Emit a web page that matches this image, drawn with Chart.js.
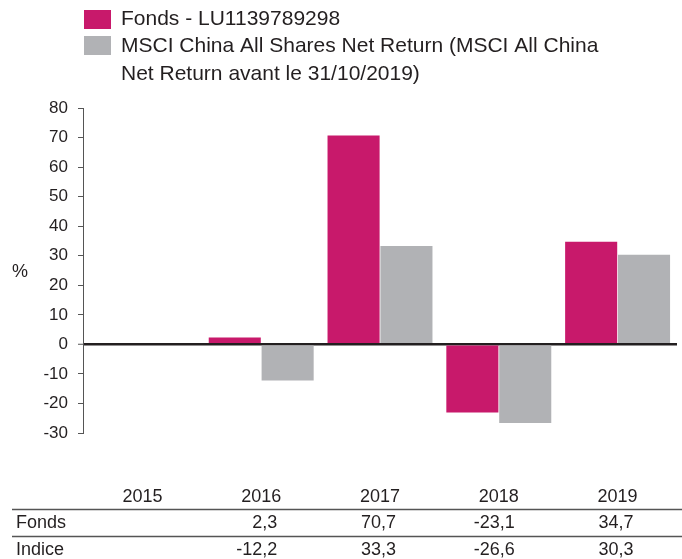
<!DOCTYPE html>
<html>
<head>
<meta charset="utf-8">
<script src="https://cdn.jsdelivr.net/npm/chart.js@4"></script>
<style>
    html, body { margin: 0; padding: 0; background: #fff; }
    #wrap { width: 682px; height: 559px; }
</style>
</head>
<body>
<div id="wrap"><canvas id="perf-chart" width="682" height="559"></canvas></div>
<script>
// data
const years = ["2015", "2016", "2017", "2018", "2019"];
const fondsValues = [null, 2.3, 70.7, -23.1, 34.7];
const indiceValues = [null, -12.2, 33.3, -26.6, 30.3];
const fondsLabel = "Fonds - LU1139789298";
const indiceLabel = ["MSCI China All Shares Net Return (MSCI All China", "Net Return avant le 31/10/2019)"];
const rowLabels = ["Fonds", "Indice"];

const FONT = "'Liberation Sans', Arial, sans-serif";
const TEXT = "#231f20";
const PINK = "#c8196b";
const GREY = "#b1b2b5";

function fmt(v) {
    return v === null ? "" : v.toFixed(1).replace(".", ",");
}

// legend, % label and the table under the chart
const extras = {
    id: "extras",
    afterDraw(chart) {
        const c = chart.ctx;
        const x = chart.scales.x;
        c.save();
        c.fillStyle = TEXT;
        c.textBaseline = "middle";

        // legend
        c.font = "21px " + FONT;
        c.fillStyle = PINK;
        c.fillRect(84, 10, 27, 19);
        c.fillStyle = GREY;
        c.fillRect(84, 36, 27, 19);
        c.fillStyle = TEXT;
        c.textAlign = "left";
        c.fillText(fondsLabel, 121, 19);
        c.fillText(indiceLabel[0], 121, 46);
        c.fillText(indiceLabel[1], 121, 74);

        // axis unit
        c.font = "18px " + FONT;
        c.fillText("%", 12, 272);

        // table
        c.font = "18px " + FONT;
        c.textAlign = "center";
        years.forEach((y, i) => {
            c.fillText(y, x.getPixelForValue(i), 497);
        });
        c.textAlign = "left";
        c.fillText(rowLabels[0], 16, 523);
        c.fillText(rowLabels[1], 16, 550);
        c.textAlign = "right";
        years.forEach((y, i) => {
            const px = x.getPixelForValue(i) + 16;
            c.fillText(fmt(fondsValues[i]), px, 523);
            c.fillText(fmt(indiceValues[i]), px, 550);
        });

        c.strokeStyle = "#555";
        c.lineWidth = 1.5;
        [509.5, 536.5].forEach((ly) => {
            c.beginPath();
            c.moveTo(12, ly);
            c.lineTo(682, ly);
            c.stroke();
        });
        c.restore();
    },
};

// config
const config = {
    type: "bar",
    data: {
        labels: years,
        datasets: [
            {
                label: fondsLabel,
                data: fondsValues,
                backgroundColor: PINK,
                categoryPercentage: 0.89,
                barPercentage: 0.985,
            },
            {
                label: indiceLabel.join(" "),
                data: indiceValues,
                backgroundColor: GREY,
                categoryPercentage: 0.89,
                barPercentage: 0.985,
            },
        ],
    },
    options: {
        responsive: false,
        animation: false,
        layout: {
            padding: { top: 108, bottom: 126, left: 0, right: 5 },
        },
        plugins: {
            legend: { display: false },
            tooltip: { enabled: false },
        },
        scales: {
            x: {
                display: false,
            },
            y: {
                min: -30,
                max: 80,
                z: 1,
                afterFit: function (scale) {
                    scale.width = 83;
                },
                border: {
                    display: true,
                    color: "#555",
                    width: 1,
                },
                grid: {
                    drawOnChartArea: true,
                    color: (ctx) => (ctx.tick && ctx.tick.value === 0 ? TEXT : "rgba(0,0,0,0)"),
                    lineWidth: (ctx) => (ctx.tick && ctx.tick.value === 0 ? 2.5 : 1),
                    tickColor: "#555",
                    tickWidth: 1,
                    tickLength: 5,
                },
                ticks: {
                    stepSize: 10,
                    padding: 10,
                    color: TEXT,
                    font: { family: FONT, size: 17 },
                },
            },
        },
    },
    plugins: [extras],
};

// render
new Chart(document.getElementById("perf-chart"), config);
</script>
</body>
</html>
